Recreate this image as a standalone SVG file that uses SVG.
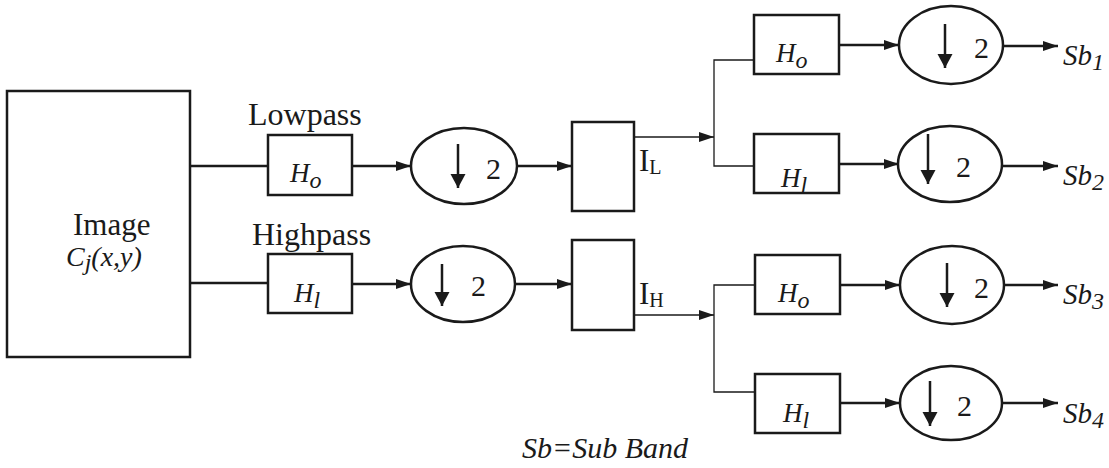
<svg xmlns="http://www.w3.org/2000/svg" width="1109" height="468" viewBox="0 0 1109 468">
<style>
.box{fill:#fff;stroke:#1a1a1a;stroke-width:2.5}
.ell{fill:#fff;stroke:#1a1a1a;stroke-width:2.5}
.w{fill:none;stroke:#1a1a1a;stroke-width:2.5}
.t{fill:none;stroke:#1a1a1a;stroke-width:1.3}
text{font-family:'Liberation Serif','DejaVu Serif',serif;fill:#1a1a1a}
.it{font-style:italic}
.two{font-size:30px}
</style>
<defs>
<marker id="ah" markerUnits="userSpaceOnUse" markerWidth="16" markerHeight="12" refX="15" refY="6" orient="auto">
<path d="M0,1 L15,6 L0,11 z" fill="#1a1a1a"/>
</marker>
<marker id="dn" markerUnits="userSpaceOnUse" markerWidth="15" markerHeight="16" refX="14" refY="7.5" orient="auto">
<path d="M0,0 L14,7.5 L0,15 z" fill="#1a1a1a"/>
</marker>
</defs>
<rect width="1109" height="468" fill="#fff"/>

<g id="connectors">
<line class="w" x1="190" y1="166" x2="268" y2="166"/>
<line class="w" x1="190" y1="283" x2="268" y2="283"/>
<line class="w" x1="352" y1="166" x2="411" y2="166" marker-end="url(#ah)"/>
<line class="w" x1="352" y1="284" x2="411" y2="284" marker-end="url(#ah)"/>
<line class="w" x1="517" y1="166" x2="572" y2="166" marker-end="url(#ah)"/>
<line class="w" x1="515" y1="284" x2="572" y2="284" marker-end="url(#ah)"/>
<line class="t" x1="634" y1="137" x2="714" y2="137" marker-end="url(#ah)"/>
<polyline class="t" points="754,60 714,60 714,166 754,166"/>
<line class="t" x1="634" y1="315" x2="714" y2="315" marker-end="url(#ah)"/>
<polyline class="t" points="755,285 714,285 714,392 755,392"/>
<line class="w" x1="839" y1="45" x2="899" y2="45" marker-end="url(#ah)"/>
<line class="w" x1="839" y1="164" x2="899" y2="164" marker-end="url(#ah)"/>
<line class="w" x1="840" y1="285" x2="900" y2="285" marker-end="url(#ah)"/>
<line class="w" x1="840" y1="403" x2="900" y2="403" marker-end="url(#ah)"/>
<line class="w" x1="1004" y1="46" x2="1058" y2="46" marker-end="url(#ah)"/>
<line class="w" x1="1002" y1="166" x2="1058" y2="166" marker-end="url(#ah)"/>
<line class="w" x1="1005" y1="285" x2="1058" y2="285" marker-end="url(#ah)"/>
<line class="w" x1="1002" y1="403" x2="1058" y2="403" marker-end="url(#ah)"/>
</g>

<g id="image">
<rect class="box" x="7" y="91" width="183" height="266"/>
<text x="73" y="235" font-size="31">Image</text>
<text class="it" x="66" y="266" font-size="28">C<tspan font-size="24" dy="4">j</tspan><tspan dy="-4">(x,y)</tspan></text>
</g>

<g id="lowpass">
<text x="248" y="125" font-size="32">Lowpass</text>
<rect class="box" x="268" y="135" width="84" height="60"/>
<text class="it" x="290" y="182" font-size="27">H<tspan font-size="24" dy="6">o</tspan></text>
</g>

<g id="highpass">
<text x="252" y="245" font-size="32">Highpass</text>
<rect class="box" x="268" y="254" width="84" height="59"/>
<text class="it" x="294" y="302" font-size="27">H<tspan font-size="24" dy="6">l</tspan></text>
</g>

<g id="down1">
<ellipse class="ell" cx="464" cy="166" rx="53" ry="38"/>
<line class="w" x1="458" y1="144" x2="458" y2="188" marker-end="url(#dn)"/>
<text class="two" x="486" y="179">2</text>
</g>

<g id="down2">
<ellipse class="ell" cx="463" cy="284" rx="52" ry="38"/>
<line class="w" x1="442" y1="264" x2="442" y2="306" marker-end="url(#dn)"/>
<text class="two" x="471" y="296">2</text>
</g>

<g id="IL">
<rect class="box" x="572" y="122" width="62" height="89"/>
<text x="639" y="171" font-size="31">I<tspan font-size="20" dy="3">L</tspan></text>
</g>

<g id="IH">
<rect class="box" x="572" y="240" width="62" height="90"/>
<text x="639" y="304" font-size="31">I<tspan font-size="20" dy="3">H</tspan></text>
</g>

<g id="h0a">
<rect class="box" x="754" y="15" width="85" height="59"/>
<text class="it" x="776" y="62" font-size="27">H<tspan font-size="24" dy="6">o</tspan></text>
</g>
<g id="h1a">
<rect class="box" x="754" y="134" width="85" height="59"/>
<text class="it" x="781" y="187" font-size="27">H<tspan font-size="24" dy="6">l</tspan></text>
</g>
<g id="h0b">
<rect class="box" x="755" y="255" width="85" height="59"/>
<text class="it" x="778" y="302" font-size="27">H<tspan font-size="24" dy="6">o</tspan></text>
</g>
<g id="h1b">
<rect class="box" x="755" y="374" width="85" height="59"/>
<text class="it" x="783" y="422" font-size="27">H<tspan font-size="24" dy="6">l</tspan></text>
</g>

<g id="down3">
<ellipse class="ell" cx="951" cy="45" rx="52" ry="39"/>
<line class="w" x1="945" y1="24" x2="945" y2="68" marker-end="url(#dn)"/>
<text class="two" x="974" y="58">2</text>
</g>
<g id="down4">
<ellipse class="ell" cx="950" cy="164" rx="52" ry="38"/>
<line class="w" x1="928" y1="134" x2="928" y2="184" marker-end="url(#dn)"/>
<text class="two" x="956" y="177">2</text>
</g>
<g id="down5">
<ellipse class="ell" cx="952" cy="285" rx="52" ry="39"/>
<line class="w" x1="947" y1="263" x2="947" y2="307" marker-end="url(#dn)"/>
<text class="two" x="974" y="298">2</text>
</g>
<g id="down6">
<ellipse class="ell" cx="951" cy="403" rx="51" ry="37"/>
<line class="w" x1="930" y1="381" x2="930" y2="426" marker-end="url(#dn)"/>
<text class="two" x="957" y="416">2</text>
</g>

<g id="outputs">
<text class="it" x="1063" y="65" font-size="29">Sb<tspan font-size="24" dy="5">1</tspan></text>
<text class="it" x="1063" y="185" font-size="29">Sb<tspan font-size="24" dy="5">2</tspan></text>
<text class="it" x="1063" y="304" font-size="29">Sb<tspan font-size="24" dy="5">3</tspan></text>
<text class="it" x="1063" y="423" font-size="29">Sb<tspan font-size="24" dy="5">4</tspan></text>
</g>

<g id="legend">
<text class="it" x="522" y="458" font-size="30">Sb=Sub Band</text>
</g>
</svg>
